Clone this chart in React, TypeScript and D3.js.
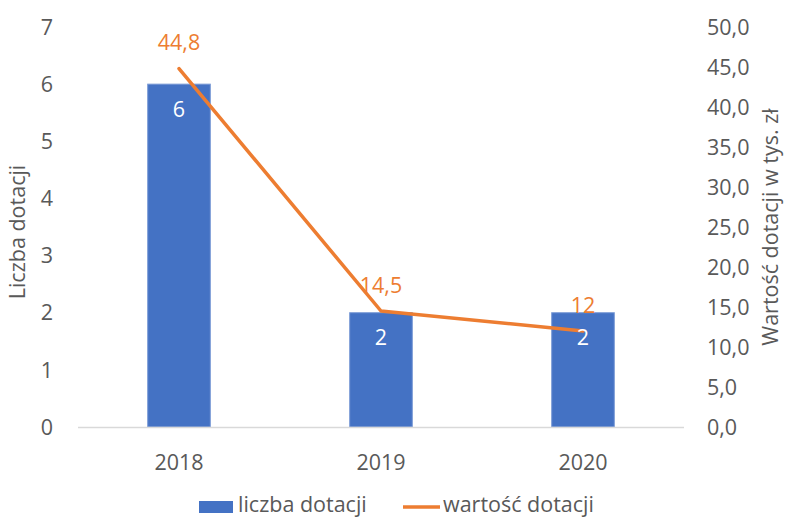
import React from "react";
import * as d3 from "d3";

const categories = ["2018", "2019", "2020"];
const counts = [6, 2, 2];
const values = [44.8, 14.5, 12];
const leftTicks = [0, 1, 2, 3, 4, 5, 6, 7];
const rightTicks = [0, 5, 10, 15, 20, 25, 30, 35, 40, 45, 50];

const W = 789;
const H = 517;
const M = { left: 78, right: 105, top: 27, bottom: 90 };
const FONT = "'Open Sans', sans-serif";
const BLUE = "#4472C4";
const ORANGE = "#ED7D31";
const GREY = "#595959";
const FS = 21.5;

const fmt1 = (v: number) => v.toFixed(1).replace(".", ",");
const fmtVal = (v: number) => (Number.isInteger(v) ? String(v) : String(v).replace(".", ","));

export default function App() {
  const x = d3
    .scaleBand<string>()
    .domain(categories)
    .range([M.left, W - M.right])
    .paddingInner(0.69)
    .paddingOuter(0.345);
  const yL = d3.scaleLinear().domain([0, 7]).range([H - M.bottom, M.top]);
  const yR = d3.scaleLinear().domain([0, 50]).range([H - M.bottom, M.top]);
  const cx = (c: string) => (x(c) as number) + x.bandwidth() / 2;
  const line = d3
    .line<number>()
    .x((_, i) => cx(categories[i]))
    .y((d) => yR(d));

  return (
    <svg width={W} height={H} style={{ position: "absolute", left: 0, top: 0, background: "#fff" }} fontFamily={FONT}>
      <rect width={W} height={H} fill="#fff" />
      {categories.map((c, i) => (
        <rect
          key={c}
          x={x(c)}
          y={yL(counts[i])}
          width={x.bandwidth()}
          height={yL(0) - yL(counts[i])}
          fill={BLUE}
          stroke="#7b9bd6"
          strokeWidth={1}
        />
      ))}
      <line x1={M.left} x2={W - M.right} y1={yL(0) + 0.5} y2={yL(0) + 0.5} stroke="#d9d9d9" strokeWidth={1.5} />
      <path d={line(values) || ""} fill="none" stroke={ORANGE} strokeWidth={3.5} strokeLinejoin="round" strokeLinecap="round" />
      {categories.map((c, i) => (
        <text key={c} x={cx(c)} y={yL(counts[i]) + 25} dy="0.36em" textAnchor="middle" fill="#fff" fontSize={FS}>
          {counts[i]}
        </text>
      ))}
      {categories.map((c, i) => (
        <text key={c} x={cx(c)} y={yR(values[i]) - 26} dy="0.36em" textAnchor="middle" fill={ORANGE} fontSize={FS}>
          {fmtVal(values[i])}
        </text>
      ))}
      {leftTicks.map((t) => (
        <text key={t} x={53} y={yL(t)} dy="0.36em" textAnchor="end" fill={GREY} fontSize={FS}>
          {t}
        </text>
      ))}
      {rightTicks.map((t) => (
        <text key={t} x={707} y={yR(t)} dy="0.36em" textAnchor="start" fill={GREY} fontSize={FS}>
          {fmt1(t)}
        </text>
      ))}
      {categories.map((c) => (
        <text key={c} x={cx(c)} y={462} dy="0.36em" textAnchor="middle" fill={GREY} fontSize={FS}>
          {c}
        </text>
      ))}
      <text transform={`translate(25,${(yL(0) + yL(7)) / 2 + 5}) rotate(-90)`} textAnchor="middle" fill={GREY} fontSize={FS}>
        Liczba dotacji
      </text>
      <text transform={`translate(778,${(yL(0) + yL(7)) / 2}) rotate(-90)`} textAnchor="middle" fill={GREY} fontSize={FS}>
        Wartość dotacji w tys. zł
      </text>
      <rect x={199} y={501} width={34} height={12} fill={BLUE} />
      <text x={238} y={504} dy="0.36em" fill={GREY} fontSize={FS}>
        liczba dotacji
      </text>
      <line x1={403} x2={440} y1={507} y2={507} stroke={ORANGE} strokeWidth={3.5} />
      <text x={443} y={504} dy="0.36em" fill={GREY} fontSize={FS}>
        wartość dotacji
      </text>
    </svg>
  );
}
